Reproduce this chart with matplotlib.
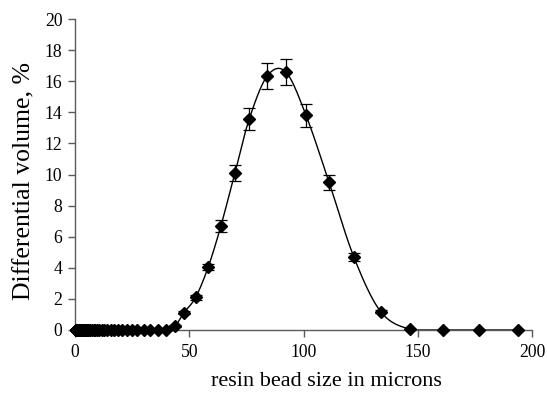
import numpy as np
import matplotlib
matplotlib.use("Agg")
import matplotlib.pyplot as plt

# Bead size (microns) and differential volume (%)
size_um = [0.4, 0.44, 0.48, 0.53, 0.58, 0.64, 0.7, 0.77, 0.85, 0.93,
           1.02, 1.12, 1.23, 1.35, 1.49, 1.63, 1.8, 1.97, 2.16, 2.38,
           2.6, 2.87, 3.15, 3.45, 3.8, 4.2, 4.6, 5.05, 5.55, 6.1,
           6.7, 7.35, 8.1, 8.9, 9.75, 10.7, 11.8, 12.9, 14.2, 15.6,
           17.1, 18.8, 20.6, 22.7, 24.9, 27.3, 30.0, 33.0, 36.2, 39.8,
           43.8, 47.7, 52.8, 58.3, 63.8, 70.0, 76.3, 84.2, 92.3, 101.1,
           111.2, 122.1, 133.8, 146.6, 160.9, 176.8, 194.0]
volume_pct = [0.0] * 50 + [0.26, 1.12, 2.1, 4.05, 6.67, 10.1, 13.59, 16.35, 16.58, 13.81,
                           9.5, 4.67, 1.18, 0.05, 0.0, 0.0, 0.0]
error_pct = [0.0] * 50 + [0.05, 0.1, 0.15, 0.2, 0.38, 0.5, 0.7, 0.84, 0.84, 0.73,
                          0.48, 0.25, 0.1, 0.0, 0.0, 0.0, 0.0]

plt.rcParams['font.family'] = ['Liberation Serif', 'DejaVu Serif']

W, H = 547, 393
fig = plt.figure(figsize=(W/100, H/100), dpi=100)
ax = fig.add_axes([75/W, (H-330)/H, (532-75)/W, (330-19)/H])

x = np.array(size_um, dtype=float)
y = np.array(volume_pct, dtype=float)

# Catmull-Rom smoothing of the line (like a spreadsheet's smoothed line)
def catmull_rom(px, py, n=20):
    P = np.column_stack([px, py])
    P = np.vstack([P[0] - (P[1] - P[0]), P, P[-1] + (P[-1] - P[-2])])
    out = []
    t = np.linspace(0, 1, n, endpoint=False)
    for i in range(1, len(P) - 2):
        p0, p1, p2, p3 = P[i-1], P[i], P[i+1], P[i+2]
        tt = t[:, None]
        seg = 0.5 * ((2*p1) + (-p0 + p2)*tt + (2*p0 - 5*p1 + 4*p2 - p3)*tt**2
                     + (-p0 + 3*p1 - 3*p2 + p3)*tt**3)
        out.append(seg)
    out.append(P[-2][None, :])
    out = np.vstack(out)
    return out[:, 0], out[:, 1]

sx, sy = catmull_rom(x, y)
sy = np.maximum(sy, 0)
ax.plot(sx, sy, color='black', lw=1.0, zorder=2, clip_on=False)
ax.errorbar(x, y, yerr=error_pct, fmt='none', ecolor='black', elinewidth=0.9,
            capsize=4, capthick=0.9, zorder=3, clip_on=False)
ax.plot(x, y, linestyle='none', marker='D', markersize=6, color='black',
        zorder=4, clip_on=False)

ax.set_xlim(0, 200)
ax.set_ylim(0, 20)
ax.set_xticks([0, 50, 100, 150, 200])
ax.set_yticks(range(0, 21, 2))

axis_color = '#5a5a5a'
for side in ['top', 'right']:
    ax.spines[side].set_visible(False)
for side in ['left', 'bottom']:
    ax.spines[side].set_color(axis_color)
    ax.spines[side].set_linewidth(1.0)
ax.tick_params(axis='both', direction='out', length=5, width=1.0, color=axis_color,
               labelsize=12.7, labelcolor='black')
ax.tick_params(axis='y', pad=4)
ax.tick_params(axis='x', pad=5)

fig.text(326/W, 1 - 382/H, 'resin bead size in microns', fontsize=16,
         ha='center', va='center')
fig.text(24/W, 1 - 181/H, 'Differential volume, %', fontsize=18.5,
         ha='center', va='center', rotation=90)

fig.savefig('out.png', dpi=100)
